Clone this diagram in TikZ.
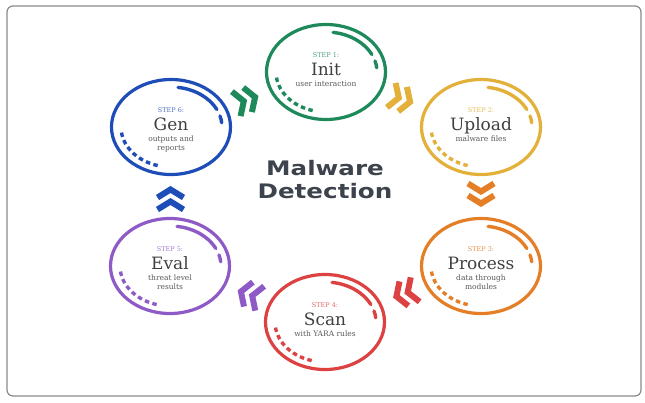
\documentclass[tikz,border=0pt]{standalone}
\usepackage{fontspec}
\usepackage{graphicx}
\setmainfont{DejaVu Serif}
\newfontfamily\headfont{DejaVu Sans}
\usetikzlibrary{
    shapes.geometric,
    positioning,
    calc
}
\definecolor{stepgreen}{HTML}{1E8A5C}
\definecolor{stepyellow}{HTML}{E3B03A}
\definecolor{steporange}{HTML}{E57F27}
\definecolor{stepred}{HTML}{DD4242}
\definecolor{steppurple}{HTML}{8E5BC6}
\definecolor{stepblue}{HTML}{1F4DB8}
\definecolor{titlegray}{HTML}{3D434C}
\definecolor{framegray}{HTML}{8A8A8A}
\newcommand{\widehead}[1]{\scalebox{1.23}[1]{#1}}

\begin{document}
\begin{tikzpicture}[x=1pt, y=-1pt,
                stepcircle/.style={draw, ellipse, line width=3.2pt, minimum width=119pt, minimum height=95pt, inner sep=0pt},
                steplabel/.style={font=\fontsize{6.5}{7}\selectfont, inner sep=0pt},
                steptitle/.style={font=\fontsize{17}{19}\selectfont, text=black!75, inner sep=0pt, anchor=base},
                stepnote/.style={font=\fontsize{7.5}{9}\selectfont, text=black!65, align=center, inner sep=0pt},
                innerarc/.style={line width=3.4pt, line cap=round},
                ringmarks/.pic={
                    \draw[innerarc] (82:51pt and 40pt) arc[start angle=82, end angle=26, x radius=51pt, y radius=40pt];
                    \draw[innerarc] (16:51pt and 40pt) arc[start angle=16, end angle=6, x radius=51pt, y radius=40pt];
                    \draw[innerarc, line cap=butt, dash pattern=on 4.5pt off 3.4pt] (188:50pt and 40pt) arc[start angle=188, end angle=256, x radius=50pt, y radius=40pt];
                },
                chevrons/.pic={
                    \draw[line width=6pt, line join=miter] (-13,-13) -- (-5,0) -- (-13,13);
                    \draw[line width=6pt, line join=miter] (-1,-13) -- (7,0) -- (-1,13);
                }
            ]
                \useasboundingbox (0,0) rectangle (645,402);
                \draw[framegray, line width=1.2pt, rounded corners=6pt] (7,6) rectangle (641,396);

                % Steps
                \node[stepcircle, draw=stepgreen] (init) at (326,72) {};
                \node[stepcircle, draw=stepyellow] (upload) at (481,127) {};
                \node[stepcircle, draw=steporange] (process) at (481,266) {};
                \node[stepcircle, draw=stepred] (scan) at (325,322) {};
                \node[stepcircle, draw=steppurple] (eval) at (170,266) {};
                \node[stepcircle, draw=stepblue] (gen) at (171,127) {};

                \pic[stepgreen] at (init) {ringmarks};
                \pic[stepyellow] at (upload) {ringmarks};
                \pic[steporange] at (process) {ringmarks};
                \pic[stepred] at (scan) {ringmarks};
                \pic[steppurple] at (eval) {ringmarks};
                \pic[stepblue] at (gen) {ringmarks};

                % Texts
                \node[steptitle] (init-t) at ([yshift=-3pt]init.center) {Init};
                \node[steplabel, text=stepgreen!80, above=17pt of init-t.base] {STEP 1:};
                \node[stepnote, below=6pt of init-t.base] {user interaction};

                \node[steptitle] (upload-t) at ([yshift=-3pt]upload.center) {Upload};
                \node[steplabel, text=stepyellow!85, above=17pt of upload-t.base] {STEP 2:};
                \node[stepnote, below=6pt of upload-t.base] {malware files};

                \node[steptitle] (process-t) at ([yshift=-3pt]process.center) {Process};
                \node[steplabel, text=steporange!85, above=17pt of process-t.base] {STEP 3:};
                \node[stepnote, below=6pt of process-t.base] {data through\\modules};

                \node[steptitle] (scan-t) at ([yshift=-3pt]scan.center) {Scan};
                \node[steplabel, text=stepred!80, above=17pt of scan-t.base] {STEP 4:};
                \node[stepnote, below=6pt of scan-t.base] {with YARA rules};

                \node[steptitle] (eval-t) at ([yshift=-3pt]eval.center) {Eval};
                \node[steplabel, text=steppurple!80, above=17pt of eval-t.base] {STEP 5:};
                \node[stepnote, below=6pt of eval-t.base] {threat level\\results};

                \node[steptitle] (gen-t) at ([yshift=-3pt]gen.center) {Gen};
                \node[steplabel, text=stepblue!80, above=17pt of gen-t.base] {STEP 6:};
                \node[stepnote, below=6pt of gen-t.base] {outputs and\\reports};

                % Flow
                \pic[stepgreen, rotate=19.5] at ($(gen)!0.5!(init)$) {chevrons};
                \pic[stepyellow, rotate=-19.5] at ($(init)!0.5!(upload)$) {chevrons};
                \pic[steporange, rotate=-90] at ($(upload)!0.5!(process)$) {chevrons};
                \pic[stepred, rotate=-160] at ($(process)!0.5!(scan)$) {chevrons};
                \pic[steppurple, rotate=160] at ($(scan)!0.5!(eval)$) {chevrons};
                \pic[stepblue, rotate=90] at ($(eval)!0.5!(gen)$) {chevrons};

                % Title
                \node[font=\headfont\bfseries\fontsize{20}{23}\selectfont, text=titlegray, align=center] (title) at (325,180) {\widehead{Malware}\\\widehead{Detection}};
            \end{tikzpicture}
\end{document}
